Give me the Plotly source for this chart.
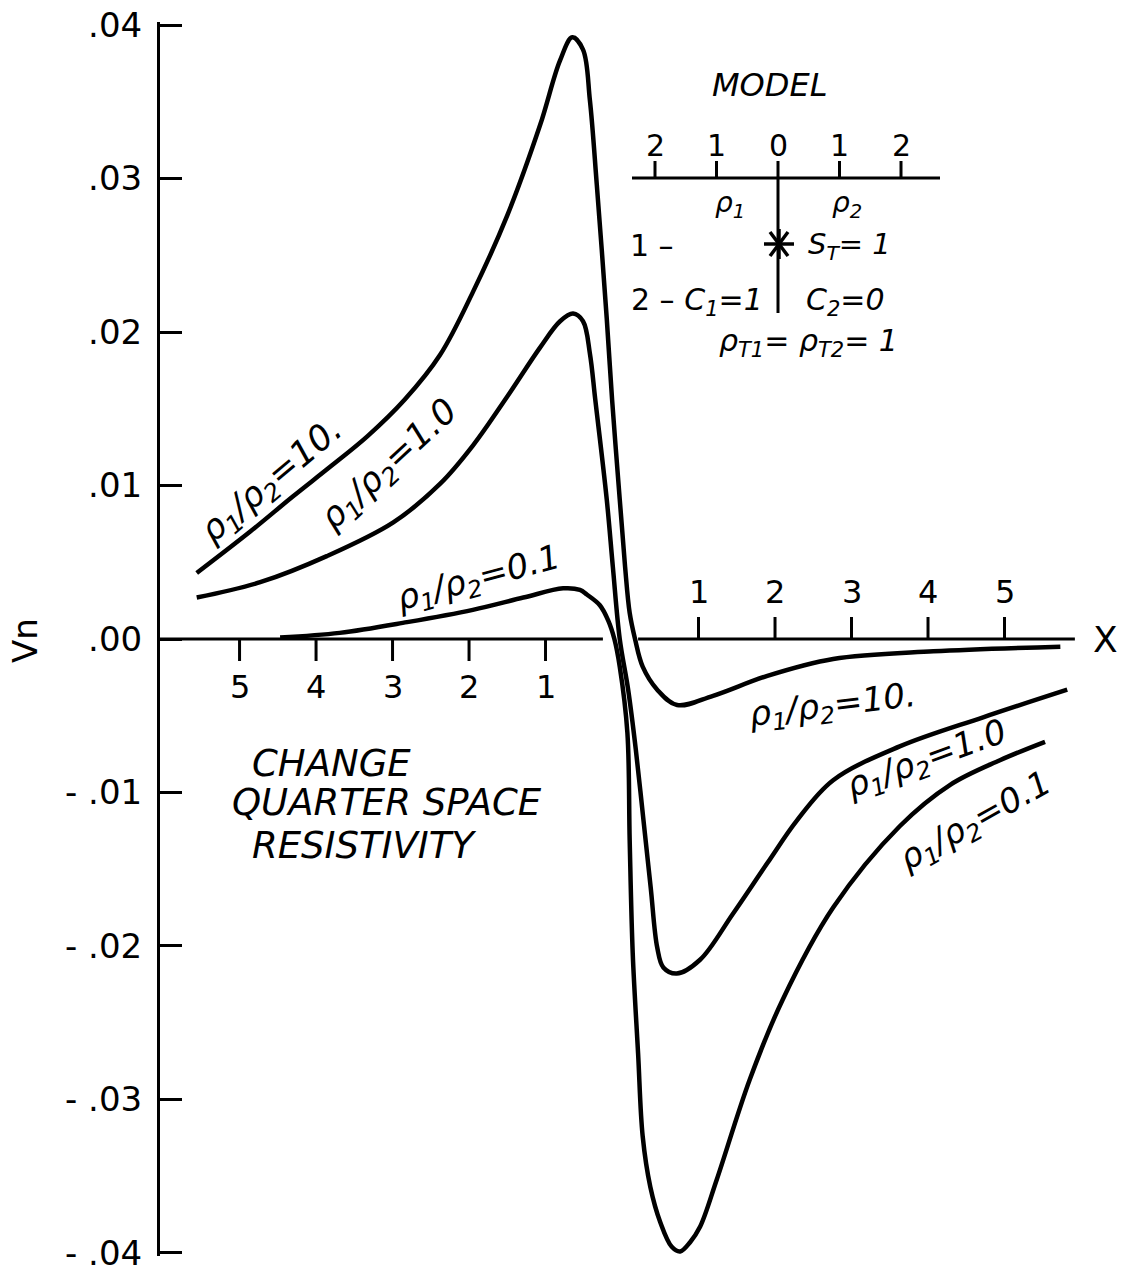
import plotly.graph_objects as go

# ---------------- data ----------------
# horizontal distance X (units), Vn values
x_r10 = [-5.56, -4.86, -4.30, -3.82, -3.33, -2.84, -2.38, -1.95, -1.50, -1.07, -0.81, -0.65,
         -0.51, -0.42, -0.33, -0.20, -0.13, -0.03, 0.04, 0.10, 0.17, 0.27, 0.46, 0.72,
         1.19, 1.90, 2.76, 4.07, 5.73]
vn_r10 = [0.0043, 0.0070, 0.0093, 0.0112, 0.0132, 0.0156, 0.0185, 0.0226, 0.0276, 0.0335,
          0.0377, 0.0392, 0.0384, 0.0351, 0.0296, 0.0209, 0.0156, 0.0091, 0.0047, 0.0017,
          0.0, -0.0018, -0.0033, -0.0043, -0.0037, -0.0024, -0.0013, -0.0008, -0.0005]

x_r1 = [-5.56, -4.73, -3.86, -2.99, -2.38, -1.95, -1.50, -1.07, -0.81, -0.64, -0.51, -0.42,
        -0.35, -0.20, -0.12, -0.03, 0.08, 0.18, 0.28, 0.375, 0.46, 0.54, 0.715, 1.02, 1.45,
        1.90, 2.29, 2.76, 3.63, 4.72, 5.82]
vn_r1 = [0.0027, 0.0037, 0.0054, 0.0076, 0.0101, 0.0126, 0.0158, 0.0190, 0.0207, 0.0212,
         0.0207, 0.0186, 0.0156, 0.0091, 0.0047, 0.0, -0.0033, -0.0072, -0.0118, -0.0162,
         -0.0201, -0.0214, -0.0218, -0.0209, -0.0179, -0.0146, -0.0118, -0.0092, -0.0070,
         -0.0051, -0.0033]

x_r01 = [-4.47, -3.69, -2.81, -1.95, -1.29, -0.77, -0.55, -0.46, -0.29, -0.18, -0.10, -0.03,
         0.07, 0.10, 0.14, 0.21, 0.27, 0.37, 0.50, 0.65, 0.76, 0.89, 1.02, 1.24, 1.67, 2.10,
         2.76, 3.63, 4.29, 4.94, 5.53]
vn_r01 = [0.0001, 0.0004, 0.0011, 0.0019, 0.0027, 0.0033, 0.0032, 0.0029, 0.0022, 0.0012,
          0.0, -0.0018, -0.0061, -0.0131, -0.0205, -0.0270, -0.0324, -0.0357, -0.0380,
          -0.0396, -0.0399, -0.0393, -0.0383, -0.0352, -0.0287, -0.0235, -0.0175, -0.0122,
          -0.0095, -0.0079, -0.0067]

y_ticks = [0.04, 0.03, 0.02, 0.01, 0.0, -0.01, -0.02, -0.03, -0.04]
y_ticktext = [".04", ".03", ".02", ".01", ".00", "- .01", "- .02", "- .03", "- .04"]
x_ticks_left = [-5, -4, -3, -2, -1]
x_ticks_left_text = ["5", "4", "3", "2", "1"]
x_ticks_right = [1, 2, 3, 4, 5]
x_ticks_right_text = ["1", "2", "3", "4", "5"]
model_ticks = [-2, -1, 0, 1, 2]
model_ticktext = ["2", "1", "0", "1", "2"]

RHO = "ρ<sub>1</sub>/ρ<sub>2</sub>="
curve_labels = [RHO + "10.", RHO + "1.0", RHO + "0.1", RHO + "10.", RHO + "1.0", RHO + "0.1"]

# ---------------- layout geometry ----------------
W, H = 1136, 1275
ML, MR, MT, MB = 160, 55, 22, 19
XR = [-6.04, 6.0]
YR = [-0.0402, 0.0402]
FONT = "DejaVu Sans"
BLACK = "black"


def paper(px, py):
    return (px - ML) / (W - ML - MR), (H - MB - py) / (H - MT - MB)


fig = go.Figure()
for xs, ys in [(x_r10, vn_r10), (x_r1, vn_r1), (x_r01, vn_r01)]:
    fig.add_trace(go.Scatter(x=xs, y=ys, mode="lines",
                             line=dict(color=BLACK, width=4.5, shape="spline", smoothing=1.0),
                             hoverinfo="skip", showlegend=False))

shapes = []
ann = []

# x axis drawn along Vn = 0 with a gap around the origin
axis_left_end, axis_right_start, axis_right_end = -0.25, 0.21, 5.92
for a, b in [(XR[0], axis_left_end), (axis_right_start, axis_right_end)]:
    shapes.append(dict(type="line", xref="x", yref="y", x0=a, x1=b, y0=0, y1=0,
                       line=dict(color=BLACK, width=3)))
for t, lab in zip(x_ticks_left, x_ticks_left_text):
    shapes.append(dict(type="line", xref="x", yref="y", ysizemode="pixel", yanchor=0,
                       x0=t, x1=t, y0=0, y1=-22, line=dict(color=BLACK, width=3)))
    ann.append(dict(x=t, y=0, xref="x", yref="y", yshift=-48, text=lab, showarrow=False,
                    font=dict(family=FONT, size=32, color=BLACK)))
for t, lab in zip(x_ticks_right, x_ticks_right_text):
    shapes.append(dict(type="line", xref="x", yref="y", ysizemode="pixel", yanchor=0,
                       x0=t, x1=t, y0=0, y1=22, line=dict(color=BLACK, width=3)))
    ann.append(dict(x=t, y=0, xref="x", yref="y", yshift=47, text=lab, showarrow=False,
                    font=dict(family=FONT, size=32, color=BLACK)))


def text_at(px, py, text, size, angle=0, anchor="center", italic=False):
    x, y = paper(px, py)
    if italic:
        text = "<i>" + text + "</i>"
    ann.append(dict(x=x, y=y, xref="paper", yref="paper", text=text, showarrow=False,
                    textangle=angle, xanchor=anchor, yanchor="middle",
                    font=dict(family=FONT, size=size, color=BLACK)))


def line_px(x0, y0, x1, y1, width=3):
    a0, b0 = paper(x0, y0)
    a1, b1 = paper(x1, y1)
    shapes.append(dict(type="line", xref="paper", yref="paper", x0=a0, y0=b0, x1=a1, y1=b1,
                       line=dict(color=BLACK, width=width)))


# axis titles
text_at(1105, 639, "X", 36)
text_at(25, 641, "Vn", 34, angle=-90)

# curve labels
label_pos = [(272, 481, -40), (390, 466, -43), (478, 579, -15),
             (832, 706, -7), (926, 760, -20), (975, 822, -29)]
label_size = [35, 35, 34, 34, 34, 34]
for (px, py, ang), lab, sz in zip(label_pos, curve_labels, label_size):
    text_at(px, py, lab, sz, angle=ang, italic=True)

# caption
text_at(250, 763, "CHANGE", 37, anchor="left", italic=True)
text_at(230, 803, "QUARTER SPACE", 37, anchor="left", italic=True)
text_at(250, 845, "RESISTIVITY", 37, anchor="left", italic=True)

# model inset
m0, mu, my = 778, 61.5, 178
text_at(769, 85, "MODEL", 32, italic=True)
line_px(632, my, 940, my)
for t, lab in zip(model_ticks, model_ticktext):
    px = m0 + mu * t
    line_px(px, my, px, my - 17)
    text_at(px, 145, lab, 30)
line_px(m0, my, m0, 313)
# source star
sx, sy = 779, 244
line_px(sx - 15, sy, sx + 15, sy, 3.5)
line_px(sx - 9, sy - 12, sx + 9, sy + 12, 3.5)
line_px(sx - 9, sy + 12, sx + 9, sy - 12, 3.5)
line_px(sx, sy - 15, sx, sy + 15, 3.5)
text_at(730, 204, "ρ<sub>1</sub>", 28, italic=True)
text_at(847, 204, "ρ<sub>2</sub>", 28, italic=True)
text_at(652, 245, "1 –", 30)
text_at(849, 246, "S<sub>T</sub>= 1", 29, italic=True)
text_at(697, 301, "2 – <i>C<sub>1</sub>=1</i>", 30)
text_at(845, 301, "C<sub>2</sub>=0", 30, italic=True)
text_at(808, 342, "ρ<sub>T1</sub>= ρ<sub>T2</sub>= 1", 30, italic=True)

fig.update_layout(
    width=W, height=H,
    margin=dict(l=ML, r=MR, t=MT, b=MB, pad=0, autoexpand=False),
    paper_bgcolor="white", plot_bgcolor="white",
    xaxis=dict(range=XR, visible=False, fixedrange=True, automargin=False),
    yaxis=dict(range=YR, tickvals=y_ticks, ticktext=y_ticktext, ticks="inside", ticklen=22,
               tickwidth=3, tickcolor=BLACK, showline=True, linewidth=3, linecolor=BLACK,
               showgrid=False, zeroline=False, ticklabelstandoff=8, fixedrange=True,
               automargin=False, tickfont=dict(family=FONT, size=34, color=BLACK)),
    shapes=shapes, annotations=ann, showlegend=False,
)

fig.write_html("out.html", config={"displayModeBar": False},
               post_script="document.body.style.margin='0';document.body.style.overflow='hidden';")
